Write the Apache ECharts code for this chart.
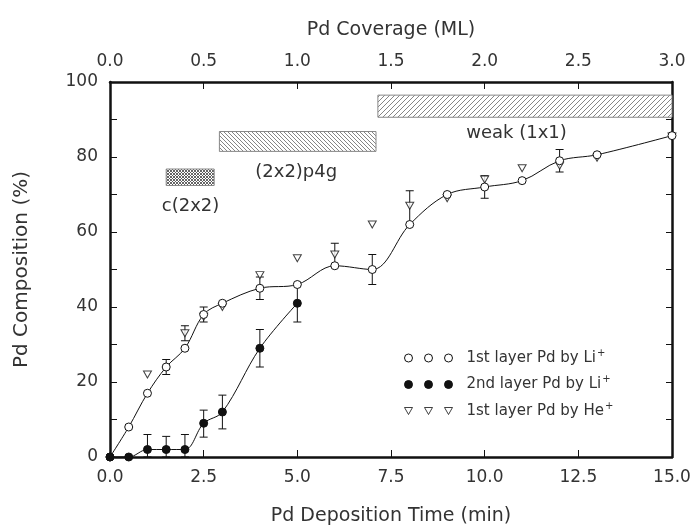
<!DOCTYPE html>
<html><head><meta charset="utf-8">
<script src="https://cdn.jsdelivr.net/npm/echarts@6/dist/echarts.min.js"></script>
<style>html,body{margin:0;padding:0;background:#fff}#c{width:695px;height:531px}</style>
</head><body><div id="c"></div>
<script>
// ---- data ----
const li1Time = [0, 0.5, 1, 1.5, 2, 2.5, 3, 4, 5, 6, 7, 8, 9, 10, 11, 12, 13, 15];
const li1Val  = [0, 8, 17, 24, 29, 38, 41, 45, 46, 51, 50, 62, 70, 72, 73.7, 79, 80.6, 85.7];
const li2Time = [0, 0.5, 1, 1.5, 2, 2.5, 3, 4, 5];
const li2Val  = [0, 0, 2, 2, 2, 9, 12, 29, 41];
const heTime  = [1, 2, 2.5, 3, 4, 5, 6, 7, 8, 9, 10, 11, 12, 13, 15];
const heVal   = [22, 33, 37.4, 40, 48.5, 53, 54, 62, 67, 69, 74, 77, 77.7, 79.8, 85.5];

const li1ErrTime = [1.5, 2.5, 4, 7, 10, 12];
const li1ErrLow  = [22, 36, 42, 46, 69, 76];
const li1ErrHigh = [26, 40, 48, 54, 75, 82];
const heErrTime  = [2, 6, 8];
const heErrLow   = [31, 51, 62];
const heErrHigh  = [35, 57, 71];
const li2ErrTime = [1, 1.5, 2, 2.5, 3, 4, 5];
const li2ErrLow  = [0, 0, 0, 5.3, 7.5, 24, 36];
const li2ErrHigh = [6, 5.5, 6, 12.5, 16.5, 34, 46];

const bandNames  = ['c(2x2)', '(2x2)p4g', 'weak (1x1)'];
const bandStart  = [1.5, 2.92, 7.15];
const bandEnd    = [2.78, 7.1, 15];
const bandLow    = [72.4, 81.5, 90.6];
const bandHigh   = [76.8, 86.8, 96.5];
const bandLabelX = [2.15, 4.97, 10.85];
const bandLabelY = [66.8, 75.8, 86.4];

const xTicks = ['0.0', '2.5', '5.0', '7.5', '10.0', '12.5', '15.0'];
const topTicks = ['0.0', '0.5', '1.0', '1.5', '2.0', '2.5', '3.0'];

const seriesNames = ['1st layer Pd by Li', '2nd layer Pd by Li', '1st layer Pd by He'];

// ---- helpers ----
function zip(a, b) { return a.map((v, i) => [v, b[i]]); }
function zip3(a, b, c) { return a.map((v, i) => [v, b[i], c[i]]); }

function hatch(kind, size, color, lw) {
  const c = document.createElement('canvas');
  c.width = c.height = size;
  const g = c.getContext('2d');
  g.fillStyle = '#fff'; g.fillRect(0, 0, size, size);
  g.strokeStyle = color; g.lineWidth = lw;
  function fw() { g.beginPath(); g.moveTo(-1, size + 1); g.lineTo(size + 1, -1); g.moveTo(-1, 1); g.lineTo(1, -1); g.moveTo(size - 1, size + 1); g.lineTo(size + 1, size - 1); g.stroke(); }
  function bw() { g.beginPath(); g.moveTo(-1, -1); g.lineTo(size + 1, size + 1); g.moveTo(size - 1, -1); g.lineTo(size + 1, 1); g.moveTo(-1, size - 1); g.lineTo(1, size + 1); g.stroke(); }
  if (kind === '/') fw();
  else if (kind === '\\') bw();
  else { fw(); bw(); }
  return c;
}
const patterns = [hatch('x', 3, '#555', 0.9), hatch('\\', 4, '#666', 0.8), hatch('/', 5, '#666', 0.8)];

const FONT = 'DejaVu Sans';
const TXT = '#333';

const errRender = function (params, api) {
  const x = api.value(0), lo = api.value(1), hi = api.value(2);
  const a = api.coord([x, lo]), b = api.coord([x, hi]);
  const w = 4;
  const st = { stroke: '#111', lineWidth: 1 };
  return { type: 'group', children: [
    { type: 'line', shape: { x1: a[0], y1: a[1], x2: b[0], y2: b[1] }, style: st },
    { type: 'line', shape: { x1: a[0] - w, y1: a[1], x2: a[0] + w, y2: a[1] }, style: st },
    { type: 'line', shape: { x1: b[0] - w, y1: b[1], x2: b[0] + w, y2: b[1] }, style: st }
  ]};
};

const bandData = bandNames.map((n, i) => [bandStart[i], bandEnd[i], bandLow[i], bandHigh[i], bandLabelX[i], bandLabelY[i], i]);

const threeCircles = 'path://M0,4A4,4 0 1,1 8,4A4,4 0 1,1 0,4Z M20,4A4,4 0 1,1 28,4A4,4 0 1,1 20,4Z M40,4A4,4 0 1,1 48,4A4,4 0 1,1 40,4Z';
const threeTri = 'path://M0,0L8,0L4,7Z M20,0L28,0L24,7Z M40,0L48,0L44,7Z';

const chart = echarts.init(document.getElementById('c'), null, { renderer: 'canvas' });

const option = {
  animation: false,
  backgroundColor: '#fff',
  grid: { left: 110, right: 23, top: 82, bottom: 72 },
  legend: {
    orient: 'vertical', left: 399, top: 343, itemGap: 9,
    itemWidth: 48, itemHeight: 8, itemSymbolKeepAspect: false,
    data: [
      { name: seriesNames[0], icon: threeCircles, itemStyle: { color: '#fff', borderColor: '#111', borderWidth: 1 } },
      { name: seriesNames[1], icon: threeCircles, itemStyle: { color: '#111', borderColor: '#111', borderWidth: 1 } },
      { name: seriesNames[2], icon: threeTri, itemStyle: { color: '#fff', borderColor: '#111', borderWidth: 1 } }
    ],
    formatter: n => '{t|' + n + '}{sup|+}',
    textStyle: { fontFamily: FONT, fontSize: 15, color: TXT,
      rich: { t: { fontFamily: FONT, fontSize: 15, color: TXT, padding: [0, 0, 0, 9] },
              sup: { fontFamily: FONT, fontSize: 10, color: TXT, padding: [0, 0, 10, 1] } } }
  },
  xAxis: [
    { type: 'value', min: 0, max: 15, interval: 2.5, position: 'bottom',
      name: 'Pd Deposition Time (min)', nameLocation: 'middle', nameGap: 50,
      nameTextStyle: { fontFamily: FONT, fontSize: 19, color: TXT },
      axisLine: { onZero: false, lineStyle: { color: '#111', width: 2.5 } },
      axisTick: { inside: true, length: 7, lineStyle: { color: '#111', width: 1 } },
      axisLabel: { margin: 12, fontFamily: FONT, fontSize: 17, color: TXT,
        formatter: (v) => xTicks[Math.round(v / 2.5)] },
      splitLine: { show: false } },
    { type: 'value', min: 0, max: 3, interval: 0.5, position: 'top',
      name: 'Pd Coverage (ML)', nameLocation: 'middle', nameGap: 42,
      nameTextStyle: { fontFamily: FONT, fontSize: 19, color: TXT },
      axisLine: { onZero: false, lineStyle: { color: '#111', width: 2.5 } },
      axisTick: { inside: true, length: 7, lineStyle: { color: '#111', width: 1 } },
      axisLabel: { margin: 12, fontFamily: FONT, fontSize: 17, color: TXT,
        formatter: (v) => topTicks[Math.round(v / 0.5)] },
      splitLine: { show: false } }
  ],
  yAxis: [
    { type: 'value', min: 0, max: 100, interval: 20, position: 'left',
      name: 'Pd Composition (%)', nameLocation: 'middle', nameGap: 78,
      nameTextStyle: { fontFamily: FONT, fontSize: 20, color: TXT },
      axisLine: { show: true, onZero: false, lineStyle: { color: '#111', width: 2.5 } },
      axisTick: { inside: true, length: 7, lineStyle: { color: '#111', width: 1 } },
      minorTick: { show: true, splitNumber: 2, length: 7, lineStyle: { color: '#111', width: 1 } },
      axisLabel: { margin: 12, fontFamily: FONT, fontSize: 17, color: TXT },
      splitLine: { show: false } },
    { type: 'value', min: 0, max: 100, interval: 10, position: 'right',
      axisLine: { show: true, onZero: false, lineStyle: { color: '#111', width: 2.5 } },
      axisTick: { inside: true, length: 6, lineStyle: { color: '#111', width: 1 } },
      axisLabel: { show: false }, splitLine: { show: false } }
  ],
  series: [
    { type: 'custom', name: 'bands', silent: true, xAxisIndex: 0, yAxisIndex: 0,
      data: bandData, z: 1,
      renderItem: function (params, api) {
        const x0 = api.value(0), x1 = api.value(1), y0 = api.value(2), y1 = api.value(3);
        const lx = api.value(4), ly = api.value(5), idx = api.value(6);
        const p0 = api.coord([x0, y1]), p1 = api.coord([x1, y0]);
        const lp = api.coord([lx, ly]);
        return { type: 'group', children: [
          { type: 'rect', shape: { x: p0[0], y: p0[1], width: p1[0] - p0[0], height: p1[1] - p0[1] },
            style: { fill: { image: patterns[idx], repeat: 'repeat' }, stroke: '#888', lineWidth: 1 } },
          { type: 'text', x: lp[0], y: lp[1],
            style: { text: bandNames[idx], align: 'center', verticalAlign: 'middle',
              font: '18px "' + FONT + '"', fill: TXT } }
        ]};
      } },
    { type: 'line', name: seriesNames[0], data: zip(li1Time, li1Val), smooth: 0.35,
      symbol: 'circle', symbolSize: 8, z: 4,
      lineStyle: { color: '#111', width: 1 },
      itemStyle: { color: '#fff', borderColor: '#111', borderWidth: 1 } },
    { type: 'line', name: seriesNames[1], data: zip(li2Time, li2Val), smooth: 0.35,
      symbol: 'circle', symbolSize: 8, z: 5,
      lineStyle: { color: '#111', width: 1 },
      itemStyle: { color: '#111', borderColor: '#111', borderWidth: 1 } },
    { type: 'scatter', name: seriesNames[2], data: zip(heTime, heVal),
      symbol: 'triangle', symbolRotate: 180, symbolSize: [8, 7], z: 3,
      itemStyle: { color: '#fff', borderColor: '#111', borderWidth: 1 } },
    { type: 'custom', name: 'err1', silent: true, data: zip3(li1ErrTime, li1ErrLow, li1ErrHigh), renderItem: errRender, z: 3 },
    { type: 'custom', name: 'err2', silent: true, data: zip3(heErrTime, heErrLow, heErrHigh), renderItem: errRender, z: 3 },
    { type: 'custom', name: 'err3', silent: true, data: zip3(li2ErrTime, li2ErrLow, li2ErrHigh), renderItem: errRender, z: 3 }
  ]
};
chart.setOption(option);
</script>
</body></html>
